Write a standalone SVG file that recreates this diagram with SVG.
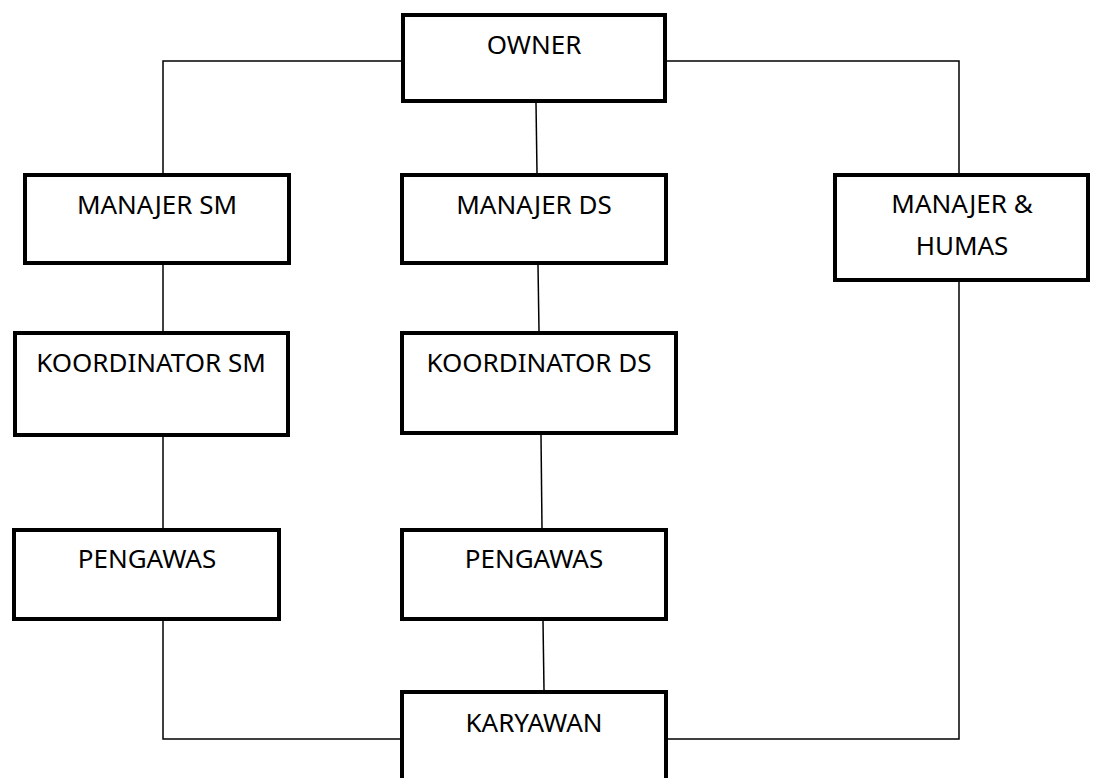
<svg xmlns="http://www.w3.org/2000/svg" width="1094" height="778" viewBox="0 0 1094 778">
<style>
.box{fill:#fff;stroke:#000;stroke-width:4}
.lbl{font-family:"Noto Sans","Open Sans",sans-serif;font-size:26px;fill:#000;text-anchor:middle}
.ln{fill:none;stroke:#000;stroke-width:1.5}
</style>
<rect width="1094" height="778" fill="#fff"/>
<g id="connectors">
<polyline class="ln" points="401,61 163,61 163,173"/>
<polyline class="ln" points="667,61 959,61 959,173"/>
<line class="ln" x1="536" y1="103" x2="537" y2="173"/>
<line class="ln" x1="163" y1="265" x2="163" y2="331"/>
<line class="ln" x1="538" y1="265" x2="539" y2="331"/>
<line class="ln" x1="163" y1="437" x2="163" y2="528"/>
<line class="ln" x1="541" y1="435" x2="542" y2="528"/>
<line class="ln" x1="543" y1="621" x2="544" y2="690"/>
<polyline class="ln" points="163,621 163,739 400,739"/>
<polyline class="ln" points="959,282 959,739 668,739"/>
</g>
<g id="owner"><rect class="box" x="403" y="15" width="262" height="86"/><text class="lbl" x="534" y="54">OWNER</text></g>
<g id="manajer-sm"><rect class="box" x="25" y="175" width="264" height="88"/><text class="lbl" x="157" y="214">MANAJER SM</text></g>
<g id="koordinator-sm"><rect class="box" x="15" y="333" width="273" height="102"/><text class="lbl" x="151" y="372">KOORDINATOR SM</text></g>
<g id="pengawas-sm"><rect class="box" x="14" y="530" width="265" height="89"/><text class="lbl" x="147" y="568">PENGAWAS</text></g>
<g id="manajer-ds"><rect class="box" x="402" y="175" width="264" height="88"/><text class="lbl" x="534" y="214">MANAJER DS</text></g>
<g id="koordinator-ds"><rect class="box" x="402" y="333" width="274" height="100"/><text class="lbl" x="539" y="372">KOORDINATOR DS</text></g>
<g id="pengawas-ds"><rect class="box" x="402" y="530" width="264" height="89"/><text class="lbl" x="534" y="568">PENGAWAS</text></g>
<g id="karyawan"><rect class="box" x="402" y="692" width="264" height="120"/><text class="lbl" x="534" y="732">KARYAWAN</text></g>
<g id="manajer-humas"><rect class="box" x="835" y="175" width="253" height="105"/><text class="lbl" x="962" y="213">MANAJER &amp;</text><text class="lbl" x="962" y="255">HUMAS</text></g>
</svg>
